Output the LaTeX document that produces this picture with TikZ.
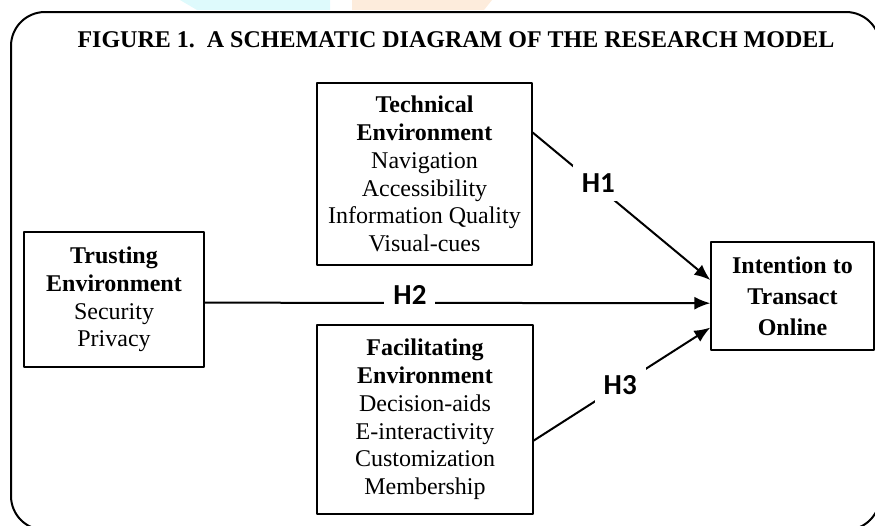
\documentclass[tikz,border=0pt]{standalone}
\usepackage{fontspec}
\setmainfont{Liberation Serif}
\newfontfamily\hypfont{Carlito}
\usepackage{tikz}
\usetikzlibrary{positioning}
\usetikzlibrary{arrows.meta}
\definecolor{wmcyan}{RGB}{222,250,252}
\definecolor{wmorange}{RGB}{253,236,220}

\begin{document}
\begin{tikzpicture}[>={Latex[length=8pt,width=6.5pt]},line join=bevel,x=0.5pt,y=-0.5pt,
    construct/.style={draw,rectangle,line width=0.65pt,align=center,inner sep=0pt,font=\fontsize{12}{13.9}\selectfont},
    hyp/.style={fill=white,inner sep=4.5pt,font=\hypfont\bfseries\fontsize{14.5}{17}\selectfont}]
            %
            \useasboundingbox (0,0) rectangle (875,526);
            \fill [wmcyan] (180,0) -- (330,0) -- (330,10) -- (197,10) -- cycle;
            \fill [wmorange] (352,0) -- (492,0) -- (484,10) -- (352,10) -- cycle;
            \draw [line width=1pt,rounded corners=17pt] (11,12) rectangle (880,530);
            %
            \node (title) at (456,40) [font=\fontsize{12}{14}\selectfont\bfseries] {FIGURE 1.\ \ A SCHEMATIC DIAGRAM OF THE RESEARCH MODEL};
            % constructs
            \node (trust) at (114,299.5) [construct,minimum width=90pt,minimum height=67.5pt] {\textbf{Trusting}\\\textbf{Environment}\\Security\\Privacy};
            \node (tech) at (424.5,174) [construct,minimum width=107.5pt,minimum height=91pt] {\textbf{Technical}\\\textbf{Environment}\\Navigation\\Accessibility\\Information Quality\\Visual-cues};
            \node (fac) at (425,419.5) [construct,minimum width=108pt,minimum height=94.5pt] {\textbf{Facilitating}\\\textbf{Environment}\\Decision-aids\\E-interactivity\\Customization\\Membership};
            \node (intent) at (792.5,296) [construct,minimum width=81.5pt,minimum height=54pt,font=\fontsize{12}{15.5}\selectfont] {\textbf{Intention to}\\\textbf{Transact}\\\textbf{Online}};
            % hypotheses
            \draw [color=black,line width=1pt,->] (tech.21) -- node[hyp,pos=0.37,yshift=2pt] {H1} (intent.169);
            \draw [color=black,line width=1pt,->] (trust.-2.2) -- node[hyp,pos=0.406,yshift=4pt] {H2} (intent.185);
            \draw [color=black,line width=1pt,->] (fac.-11) -- node[hyp,pos=0.49] {H3} (intent.201);
            %
        \end{tikzpicture}
\end{document}
